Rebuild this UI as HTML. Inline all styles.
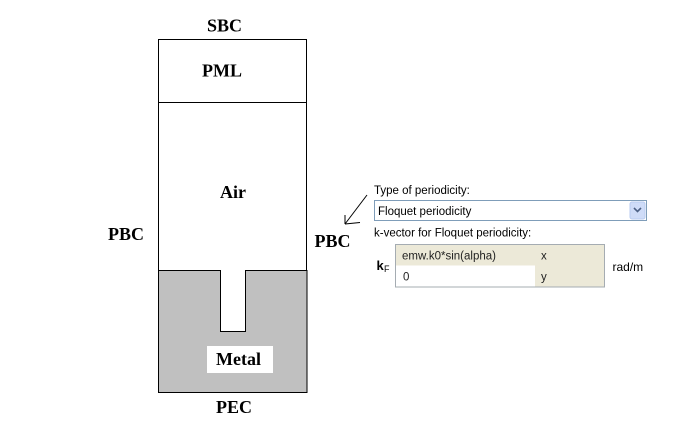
<!DOCTYPE html>
<html><head><meta charset="utf-8">
<style>
html,body{margin:0;padding:0;background:#fff;}
body{width:681px;height:439px;position:relative;overflow:hidden;}
svg{position:absolute;left:0;top:0;}
</style></head>
<body>
<svg width="681" height="439" viewBox="0 0 681 439" xmlns="http://www.w3.org/2000/svg">
  <!-- main box -->
  <rect x="158.5" y="39.5" width="148" height="353" fill="#fff" stroke="#000" stroke-width="1"/>
  <line x1="158.5" y1="102.5" x2="306.5" y2="102.5" stroke="#000"/>
  <path d="M158.5 270.5 H220.5 V331.5 H245.5 V270.5 H307 V392.5 H158.5 Z" fill="#c0c0c0" stroke="#000" stroke-width="1"/>
  <rect x="207" y="346" width="66" height="27" fill="#fff"/>
  <g font-family="Liberation Serif, serif" font-weight="bold" font-size="18" fill="#000" text-anchor="middle">
    <text x="224.5" y="31.5">SBC</text>
    <text x="222" y="76.5">PML</text>
    <text x="233" y="198">Air</text>
    <text x="126" y="240">PBC</text>
    <text x="332.5" y="247">PBC</text>
    <text x="238.5" y="365">Metal</text>
    <text x="234" y="413">PEC</text>
  </g>
  <!-- arrow -->
  <g stroke="#000" stroke-width="1" fill="none">
    <line x1="367" y1="195" x2="345" y2="224"/>
    <line x1="345" y1="224" x2="345" y2="215"/>
    <line x1="345" y1="224" x2="360" y2="222.5"/>
  </g>
  <!-- widget -->
  <g font-family="Liberation Sans, Arial, sans-serif" font-size="11.5" fill="#000">
    <text x="374" y="194">Type of periodicity:</text>
    <rect x="374.5" y="200.5" width="272" height="20" fill="#fff" stroke="#7f9db9"/>
    <text x="378" y="215">Floquet periodicity</text>
    <rect x="630" y="202" width="15" height="17" rx="2" fill="#cfdcf8" stroke="#b9cbf0"/>
    <path d="M634 208 L637.5 211.5 L641 208" stroke="#4d6185" stroke-width="1.6" fill="none"/>
    <text x="374" y="236.5">k-vector for Floquet periodicity:</text>
    <text x="376.5" y="270" font-weight="bold" font-size="13">k</text>
    <text x="384" y="272" font-size="9">F</text>
    <rect x="396" y="245" width="208" height="20.5" fill="#ece9d8"/>
    <rect x="396" y="265.5" width="139" height="21" fill="#fff"/>
    <rect x="535" y="265.5" width="69" height="21" fill="#ece9d8"/>
    <rect x="395.5" y="244.5" width="209" height="42.5" fill="none" stroke="#a5acb2"/>
    <text x="402" y="259.5" fill="#222">emw.k0*sin(alpha)</text>
    <text x="541" y="259.5" fill="#222">x</text>
    <text x="403" y="280.5" fill="#222">0</text>
    <text x="541" y="280.5" fill="#222">y</text>
    <text x="612.5" y="271" font-size="12">rad/m</text>
  </g>
</svg>
</body></html>
